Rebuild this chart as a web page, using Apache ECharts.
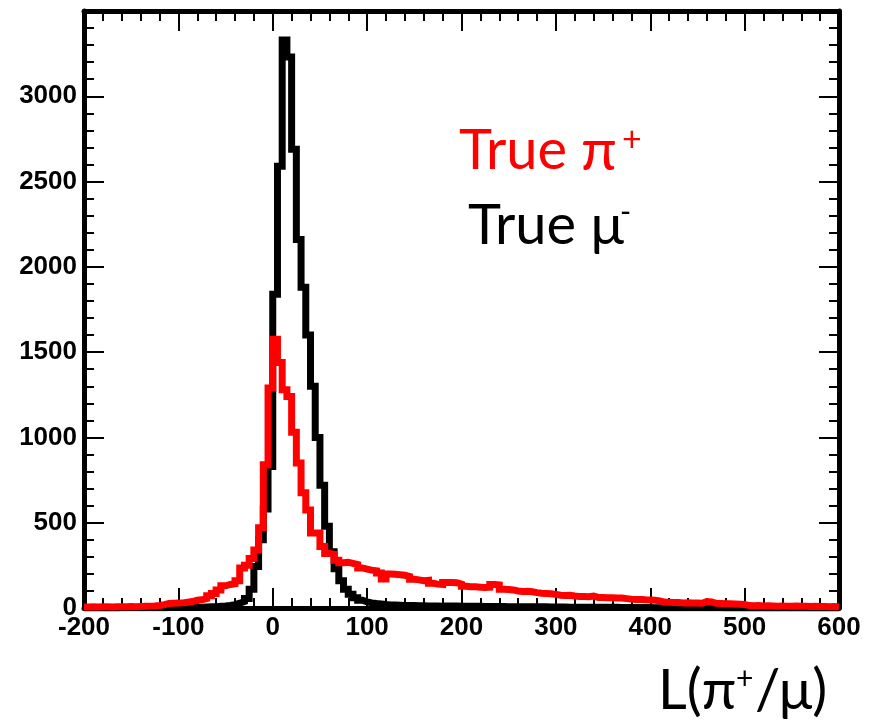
<!DOCTYPE html>
<html>
<head>
<meta charset="utf-8">
<script src="https://cdn.jsdelivr.net/npm/echarts@6/dist/echarts.min.js"></script>
<style>
html, body { margin: 0; padding: 0; background: #fff; }
#chart { width: 877px; height: 720px; }
</style>
</head>
<body>
<div id="chart"></div>
<script>
// histogram binning: L from -200 to 600, 5 units per bin
var binStart = -200;
var binWidth = 5;
var xRange = [-200, 600];
var yRange = [0, 3500];

// True pi+ (red)
var pionCounts = [
    6, 7, 6, 8, 7, 6, 8, 7, 8, 9, 8, 9, 10, 11,
    12, 15, 20, 26, 28, 29, 30, 34, 38, 45, 48, 55,
    72, 85, 105, 130, 138, 142, 160, 235, 250, 290, 340, 470, 840, 1290,
    1575, 1440, 1280, 1240, 1030, 850, 675, 575, 440, 440,
    360, 320, 315, 280, 265, 268, 262, 255, 235, 228,
    222, 218, 205, 170, 200, 198, 195, 192, 185, 168,
    165, 160, 162, 145, 140, 138, 150, 150, 148, 140,
    128, 125, 124, 122, 120, 122, 138, 135, 110, 108,
    106, 100, 97, 98, 95, 90, 86, 85, 84, 80,
    75, 73, 74, 70, 68, 67, 66, 70, 62, 62,
    60, 60, 58, 58, 55, 52, 50, 50, 48, 47,
    45, 42, 35, 33, 32, 32, 30, 31, 30, 29,
    28, 38, 36, 27, 26, 25, 25, 24, 22, 20,
    14, 13, 14, 12, 13, 12, 11, 12, 11, 10,
    11, 10, 10, 9, 10, 9, 9, 8, 9, 8
];

// True mu- (black)
var muonCounts = [
    0, 0, 0, 0, 0, 1, 0, 1, 1, 1, 1, 1, 2, 2, 2, 2,
    2, 3, 3, 3, 3, 4, 4, 5, 5, 6, 7, 8, 10, 12, 15, 20,
    28, 38, 55, 110, 243, 400, 580, 830,
    1840, 2590, 3330, 3230, 2690, 2160, 1880, 1600, 1300, 1000,
    720, 480, 330, 230, 160, 110, 80, 60, 46, 36,
    30, 26, 23, 20, 18, 17, 16, 15, 14, 14,
    13, 13, 12, 12, 12, 11, 11, 11, 11, 10,
    10, 10, 10, 10, 9, 9, 9, 9, 9, 8,
    8, 8, 8, 8, 7, 7, 7, 7, 6, 6,
    6, 6, 5, 5, 5, 5, 5, 4, 4, 4,
    4, 4, 4, 3, 3, 3, 3, 3, 3, 3,
    2, 2, 2, 2, 2, 2, 2, 1, 1, 1,
    1, 1, 1, 1, 1, 0, 0, 0, 0, 0,
    0, 0, 0, 0, 0, 0, 0, 0, 0, 0,
    0, 0, 0, 0, 0, 0, 0, 0, 0, 0
];

function stepData(counts) {
    var pts = [];
    counts.forEach(function (c, i) {
        pts.push([binStart + i * binWidth, c]);
    });
    pts.push([binStart + counts.length * binWidth, counts[counts.length - 1]]);
    return pts;
}

var labelFont = {
    fontFamily: 'Liberation Sans',
    fontWeight: 'bold',
    fontSize: 26,
    color: '#000',
    formatter: function (v) { return String(v); }
};

function makeAxis(extra) {
    var axis = {
        type: 'value',
        axisLine: { show: true, onZero: false, lineStyle: { color: '#000', width: 5 } },
        axisTick: { show: true, inside: true, length: 20, lineStyle: { color: '#000', width: 2 } },
        minorTick: { show: true, splitNumber: 5, length: 10, lineStyle: { color: '#000', width: 2 } },
        splitLine: { show: false },
        minorSplitLine: { show: false }
    };
    for (var k in extra) axis[k] = extra[k];
    return axis;
}

var chart = echarts.init(document.getElementById('chart'));

var textFont = 'Lato, "Open Sans", "Noto Sans"';

function txt(x, y, s, size, color) {
    return { type: 'text', x: x, y: y, style: { text: s, font: size + 'px ' + textFont, fill: color, textVerticalAlign: 'middle' } };
}

var option = {
    backgroundColor: '#fff',
    animation: false,
    grid: { left: 84, top: 11, width: 755, height: 597 },
    xAxis: [
        makeAxis({
            position: 'bottom', min: xRange[0], max: xRange[1], interval: 100,
            axisLabel: Object.assign({ margin: 7 }, labelFont)
        }),
        makeAxis({
            position: 'top', min: xRange[0], max: xRange[1], interval: 100,
            axisLabel: { show: false }
        })
    ],
    yAxis: [
        makeAxis({
            position: 'left', min: yRange[0], max: yRange[1], interval: 500,
            axisLabel: Object.assign({ margin: 7, showMaxLabel: false }, labelFont)
        }),
        makeAxis({
            position: 'right', min: yRange[0], max: yRange[1], interval: 500,
            axisLabel: { show: false }
        })
    ],
    series: [
        {
            name: 'True mu-',
            type: 'line',
            step: 'end',
            symbol: 'none',
            data: stepData(muonCounts),
            lineStyle: { color: '#000', width: 7, join: 'miter', cap: 'butt' },
            z: 3
        },
        {
            name: 'True pi+',
            type: 'line',
            step: 'end',
            symbol: 'none',
            data: stepData(pionCounts),
            lineStyle: { color: '#ff0000', width: 7, join: 'miter', cap: 'butt' },
            z: 4
        }
    ],
    graphic: [
        txt(459, 151, 'True', 56, '#ff0000'),
        txt(581, 151, 'π', 58, '#ff0000'),
        txt(622, 140, '+', 34, '#ff0000'),
        txt(468, 226, 'True μ', 56, '#000'),
        txt(620, 212, '-', 30, '#000'),
        // axis title L(pi+/mu)
        txt(658, 691, 'L(π', 56, '#000'),
        txt(736, 679, '+', 30, '#000'),
        txt(755, 691, '/μ)', 56, '#000')
    ]
};

chart.setOption(option);
</script>
</body>
</html>
